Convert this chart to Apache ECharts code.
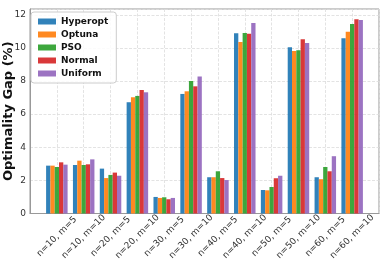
<!DOCTYPE html>
<html>
<head>
<meta charset="utf-8">
<script src="https://cdn.jsdelivr.net/npm/echarts@6/dist/echarts.min.js"></script>
<style>html,body{margin:0;padding:0;background:#fff}#c{width:382px;height:270px}</style>
</head>
<body>
<div id="c"></div>
<script>
const categories = ["n=10, m=5","n=10, m=10","n=20, m=5","n=20, m=10","n=30, m=5","n=30, m=10","n=40, m=5","n=40, m=10","n=50, m=5","n=50, m=10","n=60, m=5","n=60, m=10"];
const hyperopt = [2.89, 2.93, 2.71, 6.72, 1.00, 7.22, 2.19, 10.89, 1.42, 10.04, 2.19, 10.58];
const optuna   = [2.89, 3.19, 2.14, 7.02, 0.94, 7.38, 2.19, 10.36, 1.40, 9.82, 2.07, 10.97];
const pso      = [2.81, 2.93, 2.33, 7.10, 0.98, 8.00, 2.55, 10.90, 1.60, 9.86, 2.81, 11.45];
const normal   = [3.09, 2.97, 2.47, 7.46, 0.86, 7.68, 2.14, 10.85, 2.13, 10.52, 2.55, 11.73];
const uniform  = [2.95, 3.27, 2.28, 7.32, 0.94, 8.27, 2.02, 11.51, 2.28, 10.30, 3.46, 11.69];
const seriesNames = ["Hyperopt","Optuna","PSO","Normal","Uniform"];
const colors = ["#1f77b4","#ff7f0e","#2ca02c","#d62728","#9467bd"];
const yTicks = [0, 2, 4, 6, 8, 10, 12];

const pad = a => [null].concat(a, [null]);
const cats = [""].concat(categories, [""]);
const allSeries = [hyperopt, optuna, pso, normal, uniform];
const font = "DejaVu Sans";

const chart = echarts.init(document.getElementById('c'), null, {renderer: 'canvas'});
chart.setOption({
  animation: false,
  backgroundColor: '#fff',
  grid: {left: 30, right: 3, top: 9, bottom: 56.5, containLabel: false, outerBoundsMode: 'none',
         show: true, borderColor: '#999', borderWidth: 1},
  legend: {
    orient: 'vertical', left: 31, top: 12,
    padding: [4, 8, 4, 7],
    itemWidth: 18, itemHeight: 6, itemGap: 2, itemTextGap: 7,
    icon: 'rect',
    backgroundColor: 'rgba(255,255,255,0.85)',
    borderColor: '#cccccc', borderWidth: 1, borderRadius: 3,
    textStyle: {fontFamily: font, fontWeight: 'bold', fontSize: 9, color: '#111', lineHeight: 11},
    data: seriesNames
  },
  xAxis: {
    type: 'category', data: cats, boundaryGap: false,
    axisLine: {show: true, lineStyle: {color: '#999', width: 1}},
    axisTick: {show: false},
    splitLine: {show: true, lineStyle: {color: '#dcdcdc', type: [3, 1.5], width: 0.8}},
    axisLabel: {
      interval: 0, rotate: 45, align: 'center', verticalAlign: 'middle', margin: 23,
      fontFamily: font, fontSize: 9, color: '#333'
    }
  },
  yAxis: {
    type: 'value', min: 0, max: 12.35, interval: 2,
    axisLine: {show: true, lineStyle: {color: '#999', width: 1}},
    axisTick: {show: false},
    splitLine: {show: true, lineStyle: {color: '#dcdcdc', type: [3, 1.5], width: 0.8}},
    axisLabel: {
      margin: 4, fontFamily: font, fontSize: 9, color: '#333',
      showMaxLabel: false,
      formatter: v => (yTicks.indexOf(v) >= 0 ? String(v) : '')
    },
    name: 'Optimality Gap (%)', nameLocation: 'middle', nameGap: 15, nameMoveOverlap: false,
    nameTextStyle: {fontFamily: font, fontWeight: 'bold', fontSize: 13, color: '#111'}
  },
  series: allSeries.map((d, i) => ({
    name: seriesNames[i], type: 'bar', data: pad(d),
    barWidth: 4.3, barGap: '0%',
    itemStyle: {color: colors[i], opacity: 0.92}
  }))
});
</script>
</body>
</html>
